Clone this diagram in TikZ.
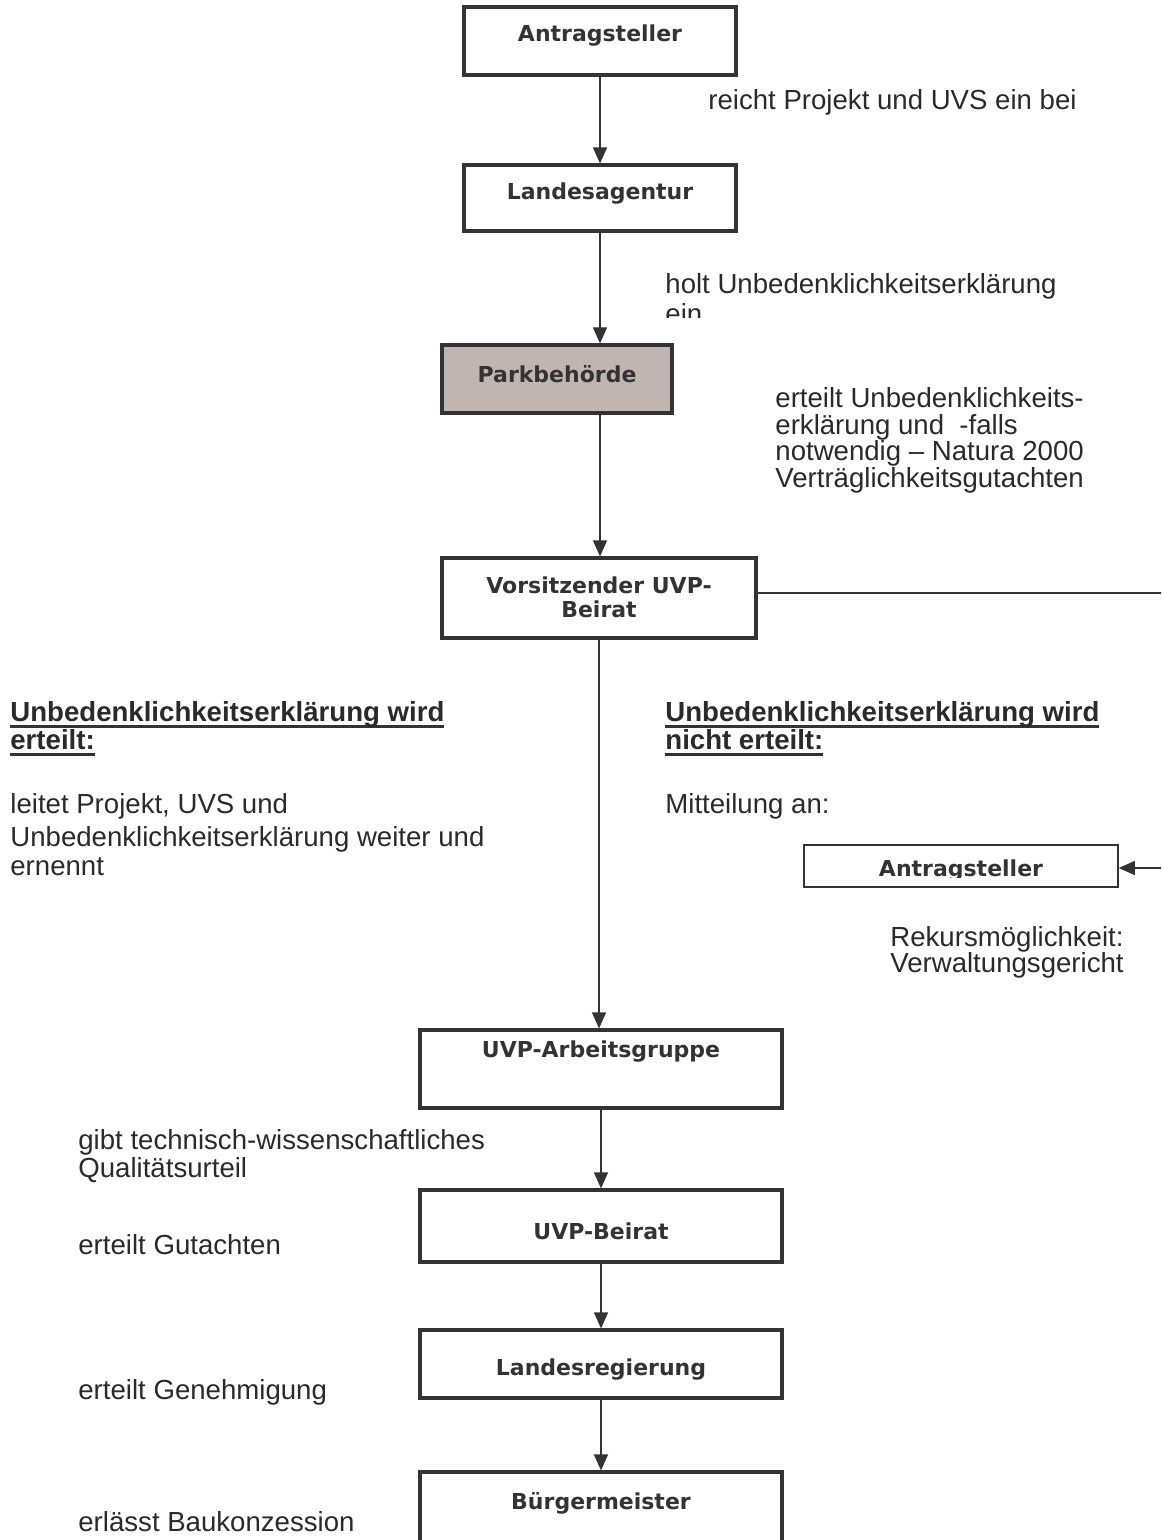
\documentclass[tikz,border=0pt]{standalone}
\usepackage{fontspec}
\setmainfont{Liberation Sans}
\newfontfamily\boxfont{DejaVu Sans}
\usetikzlibrary{arrows.meta}
\definecolor{ink}{HTML}{333333}
\definecolor{txt}{HTML}{2A2A2A}
\definecolor{parkfill}{HTML}{BFB5B2}
% heavy underline drawn below the baseline
\newcommand{\heavyul}[1]{\setbox0\hbox{#1}\rlap{\color{ink}\rule[-3.4pt]{\wd0}{1.5pt}}\box0}
\begin{document}
\begin{tikzpicture}[x=0.5pt,y=-0.5pt,
  stepbox/.style={draw=ink, line width=1.6pt, rectangle, inner sep=0pt},
  thinbox/.style={draw=ink, line width=0.8pt, rectangle, inner sep=0pt},
  boxlabel/.style={anchor=base, inner sep=0pt, font=\boxfont\bfseries\fontsize{11}{13}\selectfont, text=ink, align=center},
  note/.style={anchor=base west, inner sep=0pt, font=\fontsize{13.8}{14.2}\selectfont, text=txt, align=left},
  head/.style={note, font=\bfseries\fontsize{13.8}{14.2}\selectfont},
  flow/.style={draw=ink, line width=0.75pt, -{Triangle[width=7pt,length=8pt]}},
  plain/.style={draw=ink, line width=0.75pt}]
\clip (0,0) rectangle (1161,1540);
\fill[white] (0,0) rectangle (1161,1540);

% boxes
\node[stepbox, minimum width=136pt, minimum height=34pt] (antrag) at (600,41) {};
\node[stepbox, minimum width=136pt, minimum height=33pt] (landes) at (600,198) {};
\node[stepbox, fill=parkfill, minimum width=115pt, minimum height=34pt] (park) at (557,379) {};
\node[stepbox, minimum width=157pt, minimum height=40pt] (vors) at (599,598) {};
\node[thinbox, minimum width=157pt, minimum height=21pt] (antrag2) at (961,866) {};
\node[stepbox, minimum width=181pt, minimum height=39pt] (arbeit) at (601,1069) {};
\node[stepbox, minimum width=181pt, minimum height=36pt] (beirat) at (601,1226) {};
\node[stepbox, minimum width=181pt, minimum height=34pt] (regierung) at (601,1364) {};
\node[stepbox, minimum width=181pt, minimum height=40pt] (buerger) at (601,1512) {};

% box labels
\node[boxlabel] (tantrag) at (600,42) {Antragsteller};
\node[boxlabel] (tlandes) at (600,200) {Landesagentur};
\node[boxlabel] (tpark) at (557,382) {Parkbehörde};
\node[boxlabel] (tvors1) at (599,593) {Vorsitzender UVP-};
\node[boxlabel] (tvors2) at (599,617) {Beirat};
\begin{scope}
  \clip (800,840) rectangle (1120,877);
  \node[boxlabel] (tantrag2) at (961,876) {Antragsteller};
\end{scope}
\node[boxlabel] (tarbeit) at (601,1057) {UVP-Arbeitsgruppe};
\node[boxlabel] (tbeirat) at (601,1239) {UVP-Beirat};
\node[boxlabel] (tregierung) at (601,1375) {Landesregierung};
\node[boxlabel] (tbuerger) at (601,1509) {Bürgermeister};

% connectors
\draw[flow] (antrag.south) -- (antrag.south |- landes.north);
\draw[flow] (landes.south) -- (landes.south |- park.north);
\draw[flow] (landes.south |- park.south) -- (landes.south |- vors.north);
\draw[flow] (vors.south) -- (vors.south |- arbeit.north);
\draw[flow] (arbeit.south) -- (beirat.north);
\draw[flow] (beirat.south) -- (regierung.north);
\draw[flow] (regierung.south) -- (buerger.north);
\coordinate (rtop) at (1175,593);
\coordinate (rbot) at (1175,868);
\draw[plain] (vors.east |- rtop) -- (rtop) -- (rbot);
\draw[flow] (rbot) -- (antrag2.east |- rbot);

% annotations
\node[note] (n1) at (708,110) {reicht Projekt und UVS ein bei};
\node[note] (n2) at (665,294) {holt Unbedenklichkeitserklärung};
\begin{scope}
  \clip (660,300) rectangle (760,318);
  \node[note] (n2b) at (665,324) {ein};
\end{scope}
\node[note] (n3) at (775,407) {erteilt Unbedenklichkeits-};
\node[note] (n4) at (775,434) {erklärung und \ -falls};
\node[note] (n5) at (775,460) {notwendig – Natura 2000};
\node[note] (n6) at (775,487) {Verträglichkeitsgutachten};

\node[head] (h1) at (10,721) {\heavyul{Unbedenklichkeitserklärung wird}};
\node[head] (h2) at (10,749) {\heavyul{erteilt:}};
\node[note] (l1) at (10,813) {leitet Projekt, UVS und};
\node[note] (l2) at (10,846) {Unbedenklichkeitserklärung weiter und};
\node[note] (l3) at (10,875) {ernennt};

\node[head] (h3) at (665,721) {\heavyul{Unbedenklichkeitserklärung wird}};
\node[head] (h4) at (665,749) {\heavyul{nicht erteilt:}};
\node[note] (m1) at (665,813) {Mitteilung an:};
\node[note] (r1) at (890,946) {Rekursmöglichkeit:};
\node[note] (r2) at (890,972) {Verwaltungsgericht};

\node[note] (g1) at (78,1149) {gibt technisch-wissenschaftliches};
\node[note] (g2) at (78,1177) {Qualitätsurteil};
\node[note] (g3) at (78,1254) {erteilt Gutachten};
\node[note] (g4) at (78,1399) {erteilt Genehmigung};
\node[note] (g5) at (78,1531) {erlässt Baukonzession};
\end{tikzpicture}
\end{document}
